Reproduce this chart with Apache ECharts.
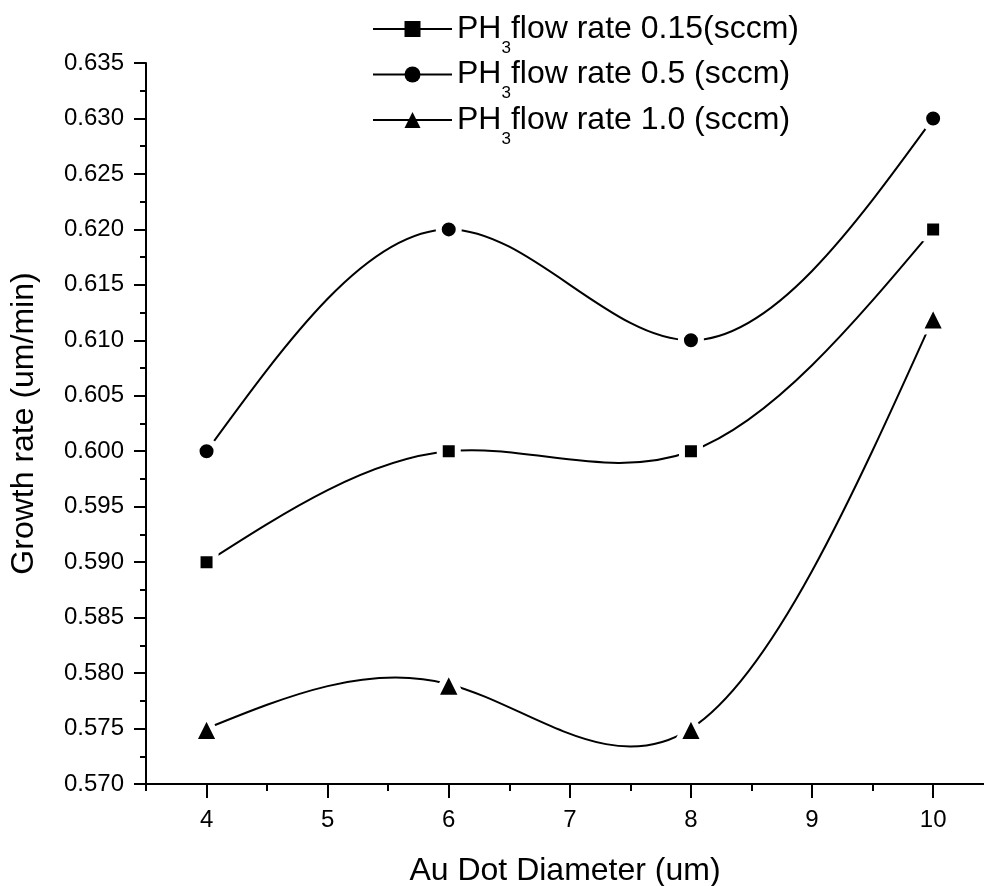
<!DOCTYPE html>
<html>
<head>
<meta charset="utf-8">
<script src="https://cdn.jsdelivr.net/npm/echarts@6/dist/echarts.min.js"></script>
<style>
  html, body { margin: 0; padding: 0; background: #fff; }
  #chart { width: 984px; height: 886px; }
</style>
</head>
<body>
<div id="chart"></div>
<script>
// data
const diameters = [4, 6, 8, 10];
const rate015 = [0.590, 0.600, 0.600, 0.620];
const rate05 = [0.600, 0.620, 0.610, 0.630];
const rate10 = [0.575, 0.579, 0.575, 0.612];
const seriesNames = ['PH3flow rate 0.15(sccm)', 'PH3flow rate 0.5 (sccm)', 'PH3flow rate 1.0 (sccm)'];
const legendTails = ['flow rate 0.15(sccm)', 'flow rate 0.5 (sccm)', 'flow rate 1.0 (sccm)'];
const xMajorTicks = [4, 5, 6, 7, 8, 9, 10];
const xMinorTicks = [3.5, 4.5, 5.5, 6.5, 7.5, 8.5, 9.5];

const FONT = '"Liberation Sans", Arial, sans-serif';

const chart = echarts.init(document.getElementById('chart'), null, { renderer: 'canvas' });

const pairs = ys => diameters.map((x, i) => [x, ys[i]]);

// natural cubic spline through pixel points, returned as bezier path (Origin "spline" connect)
function splinePath(pts) {
    const n = pts.length;
    const h = [], M = new Array(n).fill(0);
    for (let i = 0; i < n - 1; i++) h.push(pts[i + 1][0] - pts[i][0]);
    // tridiagonal solve for second derivatives
    const a = [], b = [], c = [], d = [];
    for (let i = 1; i < n - 1; i++) {
        a.push(h[i - 1]);
        b.push(2 * (h[i - 1] + h[i]));
        c.push(h[i]);
        d.push(6 * ((pts[i + 1][1] - pts[i][1]) / h[i] - (pts[i][1] - pts[i - 1][1]) / h[i - 1]));
    }
    const m = b.length;
    for (let i = 1; i < m; i++) {
        const w = a[i] / b[i - 1];
        b[i] -= w * c[i - 1];
        d[i] -= w * d[i - 1];
    }
    const sol = new Array(m);
    for (let i = m - 1; i >= 0; i--) {
        sol[i] = (d[i] - (i < m - 1 ? c[i] * sol[i + 1] : 0)) / b[i];
    }
    for (let i = 0; i < m; i++) M[i + 1] = sol[i];

    let path = 'M' + pts[0][0] + ' ' + pts[0][1];
    for (let i = 0; i < n - 1; i++) {
        const [x0, y0] = pts[i], [x1, y1] = pts[i + 1];
        const s = (y1 - y0) / h[i];
        const d0 = s - h[i] * (2 * M[i] + M[i + 1]) / 6;
        const d1 = s + h[i] * (M[i] + 2 * M[i + 1]) / 6;
        path += ' C' + (x0 + h[i] / 3) + ' ' + (y0 + d0 * h[i] / 3) + ' ' +
            (x1 - h[i] / 3) + ' ' + (y1 - d1 * h[i] / 3) + ' ' + x1 + ' ' + y1;
    }
    return path;
}

function curveSeries(ys) {
    return {
        type: 'custom',
        xAxisIndex: 0,
        z: 1,
        silent: true,
        data: pairs(ys),
        renderItem: function (params, api) {
            if (params.dataIndex !== 0) return null;
            const pts = diameters.map((x, i) => api.coord([x, ys[i]]));
            return {
                type: 'path',
                shape: { pathData: splinePath(pts) },
                style: { stroke: '#000', lineWidth: 2, fill: 'none' }
            };
        }
    };
}

function markerSeries(name, ys, symbol, size) {
    return {
        name: name,
        type: 'line',
        xAxisIndex: 0,
        z: 3,
        data: pairs(ys),
        symbol: symbol,
        symbolSize: size,
        lineStyle: { color: '#000', width: 2, opacity: 0 },
        // white border cuts the curve around the marker, Origin style
        itemStyle: { color: '#000', borderColor: '#fff', borderWidth: 6, borderJoin: 'round' }
    };
}

const option = {
    animation: false,
    backgroundColor: '#fff',
    grid: { left: 146, right: 0, top: 63, bottom: 102, containLabel: false, outerBoundsMode: 'none' },
    legend: {
        orient: 'vertical',
        left: 367,
        top: 8,
        itemWidth: 79,
        itemHeight: 20,
        itemGap: 2,
        itemStyle: { borderWidth: 0, color: '#000' },
        lineStyle: { color: '#000', width: 2, opacity: 1 },
        textStyle: {
            fontFamily: FONT,
            fontSize: 32,
            color: '#000',
            rich: {
                s: { fontFamily: FONT, fontSize: 17, color: '#000', padding: [38, 0, 0, 0] }
            }
        },
        formatter: name => 'PH{s|3}' + legendTails[seriesNames.indexOf(name)],
        data: seriesNames
    },
    xAxis: [
        {
            type: 'value',
            min: 3.5,
            max: 10.42,
            name: 'Au Dot Diameter (um)',
            nameLocation: 'middle',
            nameGap: 71,
            nameTextStyle: { fontFamily: FONT, fontSize: 32, color: '#000' },
            axisLine: { show: true, lineStyle: { color: '#000', width: 2 } },
            axisTick: { show: true, inside: false, length: 14, lineStyle: { color: '#000', width: 2 }, customValues: xMajorTicks },
            axisLabel: { fontFamily: FONT, fontSize: 24, color: '#000', margin: 24, customValues: xMajorTicks },
            splitLine: { show: false }
        },
        {
            type: 'value',
            position: 'bottom',
            min: 3.5,
            max: 10.42,
            axisLine: { show: false },
            axisTick: { show: true, inside: false, length: 7, lineStyle: { color: '#000', width: 2 }, customValues: xMinorTicks },
            axisLabel: { show: false },
            splitLine: { show: false }
        }
    ],
    yAxis: {
        type: 'value',
        min: 0.570,
        max: 0.635,
        interval: 0.005,
        name: 'Growth rate (um/min)',
        nameLocation: 'middle',
        nameGap: 106,
        nameTextStyle: { fontFamily: FONT, fontSize: 32, color: '#000' },
        axisLine: { show: true, lineStyle: { color: '#000', width: 2 } },
        axisTick: { show: true, inside: false, length: 12, lineStyle: { color: '#000', width: 2 } },
        minorTick: { show: true, splitNumber: 2, length: 6, lineStyle: { color: '#000', width: 2 } },
        axisLabel: { fontFamily: FONT, fontSize: 24, color: '#000', margin: 22, formatter: v => v.toFixed(3) },
        splitLine: { show: false }
    },
    series: [
        curveSeries(rate015),
        curveSeries(rate05),
        curveSeries(rate10),
        markerSeries(seriesNames[0], rate015, 'rect', 18),
        markerSeries(seriesNames[1], rate05, 'circle', 20),
        markerSeries(seriesNames[2], rate10, 'triangle', 27)
    ]
};

chart.setOption(option);
</script>
</body>
</html>
